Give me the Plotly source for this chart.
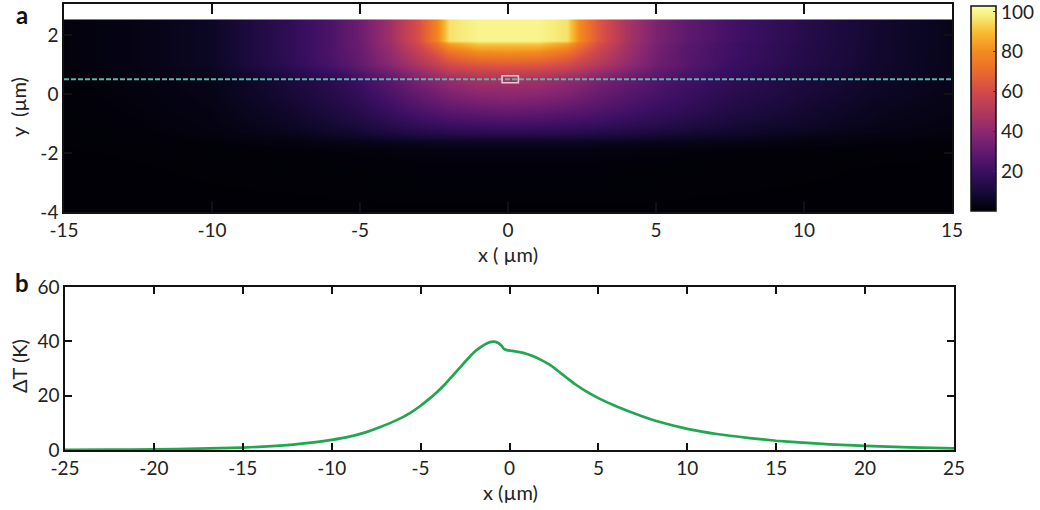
import plotly.graph_objects as go

# ---------------- data: panel a (temperature map) ----------------
map_x = [-15, -12.5, -10, -7.5, -6, -5, -4, -3, -2.4, -2.0, -1, 0, 1, 2.0, 2.4, 3, 4, 5, 6, 7.5, 10, 12.5, 15]
map_y = [-4, -2.5, -1.9, -1.6, -1.3, -1.0, -0.5, 0.0, 0.5, 1.0, 1.4, 1.7, 1.8, 2.45, 2.5]
row_m4_0 = [0.3] * 23
row_m2_5 = [0.3, 0.4, 0.5, 0.6, 0.7, 0.8, 0.9, 1, 1, 1, 1, 1, 1, 1, 1, 1, 0.9, 0.8, 0.7, 0.6, 0.5, 0.4, 0.3]
row_m1_9 = [0.4, 0.5, 0.7, 1, 1.3, 1.5, 1.7, 1.9, 2, 2, 2, 2, 2, 2, 2, 1.9, 1.8, 1.6, 1.4, 1.2, 0.9, 0.7, 0.5]
row_m1_6 = [0.5, 0.8, 1.2, 2.2, 3, 3.8, 4.6, 5.3, 5.6, 5.8, 6, 6, 6, 5.8, 5.7, 5.4, 5, 4.4, 3.8, 3.2, 2.2, 1.5, 1.1]
row_m1_3 = [0.5, 1, 2, 4.5, 7, 8.5, 11, 13, 13.8, 14.3, 14.8, 15, 14.8, 14.3, 14, 13.3, 12, 10.5, 9, 7.5, 5, 3, 2]
row_m1_0 = [0.6, 1.2, 2.5, 6, 9, 11.5, 15, 18, 19.5, 20.5, 21.5, 22, 21.5, 20.5, 20, 19, 17, 15, 13, 10, 7, 4, 2.5]
row_m0_5 = [0.7, 1.5, 3, 7.5, 11.5, 15, 20, 25, 27, 29, 31, 32, 31, 29, 28, 26, 23, 19.5, 17, 13, 8.5, 5, 3]
row_p0_0 = [0.8, 1.8, 3.5, 9, 13.5, 18, 24, 30, 33, 36, 39, 40, 39, 36, 34, 31, 27, 23, 19.5, 15, 10, 6, 3.5]
row_p0_5 = [1, 2, 4, 10, 15, 21, 28, 36, 40, 43, 47, 47, 46, 42, 40, 36, 31, 26, 22, 17, 11, 7, 4]
row_p1_0 = [1.5, 3, 6, 15.5, 23, 30, 39, 49, 55, 60, 64, 65, 64, 60, 56, 51, 42, 33, 27, 20, 13, 7.6, 4]
row_p1_4 = [1.5, 3, 6, 16, 24, 31, 42, 55, 64, 72, 79, 80, 79, 72, 66, 57, 45, 34, 27, 21, 13.5, 7.8, 4]
row_p1_7 = [1.5, 3, 6, 16, 24, 32, 44, 60, 72, 84, 92, 92, 92, 84, 74, 62, 47, 35, 28, 21, 13.5, 7.8, 4]
row_heater = [1.5, 3, 6, 16, 24, 32, 45, 62, 78, 96, 100, 100, 100, 96, 80, 65, 48, 36, 29, 22, 14, 8, 4]
map_z = [row_m4_0, row_m2_5, row_m1_9, row_m1_6, row_m1_3, row_m1_0, row_m0_5,
         row_p0_0, row_p0_5, row_p1_0, row_p1_4, row_p1_7, row_heater, row_heater, row_heater]

cut_line_y = 0.5
cut_line_x = [-15, 15]
probe_box_x = [-0.2, 0.35]
probe_box_y = [0.38, 0.62]
cbar_ticks = [20, 40, 60, 80, 100]

# ---------------- data: panel b (temperature profile along the dashed line) ----------------
prof_x = [-25, -22.5, -20, -17.5, -15, -12.5, -11, -10, -9, -8.2, -7.3, -6.35, -5.6, -5, -4.5,
          -4.1, -3.6, -3.16, -2.7, -2.2, -1.9, -1.66, -1.4, -1.1, -0.85, -0.63, -0.45, -0.31,
          -0.15, 0.03, 0.4, 0.9, 1.34, 1.8, 2.28, 2.75, 3.2, 3.7, 4.15, 5, 6.03, 7.34, 8.46,
          10, 11.65, 13.5, 15, 16.3, 18, 20, 22.5, 25]
prof_y = [0.05, 0.12, 0.25, 0.5, 0.9, 1.8, 2.8, 3.7, 4.9, 6.3, 8.4, 11, 13.6, 16.3, 18.9,
          21.2, 24.4, 27.6, 31, 34.6, 36.5, 37.7, 38.8, 39.7, 39.9, 39.4, 38.4, 37.2,
          36.75, 36.6, 36.2, 35.5, 34.5, 33.1, 31.3, 29.0, 26.7, 24.2, 22.2, 19.1, 16, 12.7, 10.3,
          7.8, 5.9, 4.4, 3.4, 2.8, 2.1, 1.5, 1.0, 0.6]

top_xticks = [-15, -10, -5, 0, 5, 10, 15]
top_xlabels = ["-15", "-10", "-5", "0", "5", "10", "15"]
top_yticks = [-4, -2, 0, 2]
top_ylabels = ["-4", "-2", "0", "2"]
bot_xticks = [-25, -20, -15, -10, -5, 0, 5, 10, 15, 20, 25]
bot_xlabels = ["-25", "-20", "-15", "-10", "-5", "0", "5", "10", "15", "20", "25"]
bot_yticks = [0, 20, 40, 60]
bot_ylabels = ["0", "20", "40", "60"]

# ---------------- styling ----------------
W, H = 1040, 510
FONT = "Lato"
TICK = 19
colorscale = [
    [0.00, "#000004"], [0.05, "#0a0620"], [0.10, "#1a0a3c"], [0.194, "#3b0f63"],
    [0.29, "#631a6e"], [0.388, "#8c2870"], [0.485, "#b2385c"], [0.583, "#d44a4a"],
    [0.68, "#ea6a2e"], [0.777, "#f38c1d"], [0.874, "#f8bd33"], [0.95, "#f7ec7c"],
    [1.00, "#fcffa4"],
]

def px_x(p):
    return p / W

def px_y(p):
    return 1 - p / H

fig = go.Figure()
fig.add_trace(go.Heatmap(
    x=map_x, y=map_y, z=map_z, zsmooth="best", colorscale=colorscale,
    zmin=0, zmax=103, xaxis="x", yaxis="y",
    colorbar=dict(
        x=px_x(971), xanchor="left", y=px_y(6), yanchor="top",
        len=205 / H, lenmode="fraction", thickness=25, thicknessmode="pixels",
        outlinecolor="#111", outlinewidth=1.5, tickvals=cbar_ticks,
        ticks="inside", ticklen=3, tickcolor="#333", xpad=0, ypad=0,
        ticklabeloverflow="allow",
        tickfont=dict(family=FONT, size=TICK, color="#222"),
    ),
    hoverinfo="skip",
))
fig.add_trace(go.Scatter(
    x=cut_line_x, y=[cut_line_y, cut_line_y], mode="lines",
    line=dict(color="#5db7a3", width=1.8, dash="5px,2px"),
    xaxis="x", yaxis="y", showlegend=False, hoverinfo="skip",
))
fig.add_trace(go.Scatter(
    x=prof_x, y=prof_y, mode="lines",
    line=dict(color="#23a650", width=2.7, shape="spline", smoothing=0.6),
    xaxis="x2", yaxis="y2", showlegend=False, hoverinfo="skip",
))

fig.add_shape(type="rect", xref="x", yref="y",
              x0=probe_box_x[0], x1=probe_box_x[1], y0=probe_box_y[0], y1=probe_box_y[1],
              line=dict(color="#f2c4d4", width=1.6))

axis_common = dict(showgrid=False, zeroline=False, showline=True, linecolor="#111", linewidth=1.5,
                   mirror="ticks", ticks="inside", tickcolor="#111", tickwidth=1.5,
                   automargin=False, tickmode="array",
                   tickfont=dict(family=FONT, size=TICK, color="#222"))

fig.update_layout(
    width=W, height=H, margin=dict(l=0, r=0, t=0, b=0, autoexpand=False),
    paper_bgcolor="white", plot_bgcolor="white", showlegend=False,
    xaxis=dict(domain=[px_x(64), px_x(952)], range=[-15, 15], tickvals=top_xticks,
               ticktext=top_xlabels, ticklen=10, anchor="y", **axis_common),
    yaxis=dict(domain=[px_y(212), px_y(4)], range=[-4, 3.05], tickvals=top_yticks,
               ticktext=top_ylabels, ticklen=8, anchor="x", **axis_common),
    xaxis2=dict(domain=[px_x(65), px_x(954)], range=[-25, 25], tickvals=bot_xticks,
                ticktext=bot_xlabels, ticklen=7, anchor="y2", **axis_common),
    yaxis2=dict(domain=[px_y(450), px_y(287)], range=[0, 60], tickvals=bot_yticks,
                ticktext=bot_ylabels, ticklen=7, anchor="x2", **axis_common),
)

ann_font = dict(family=FONT, size=20, color="#222")
annotations = [
    dict(text="<b>a</b>", x=px_x(22), y=px_y(14), font=dict(family=FONT, size=24, color="#111")),
    dict(text="<b>b</b>", x=px_x(22), y=px_y(282), font=dict(family=FONT, size=24, color="#111")),
    dict(text="y  (µm)", x=px_x(18), y=px_y(107), textangle=-90, font=ann_font),
    dict(text="x ( µm)", x=px_x(508), y=px_y(254), font=ann_font),
    dict(text="ΔT (K)", x=px_x(19), y=px_y(366), textangle=-90, font=ann_font),
    dict(text="x (µm)", x=px_x(510), y=px_y(492), font=ann_font),
]
for a in annotations:
    a.update(xref="paper", yref="paper", showarrow=False, xanchor="center", yanchor="middle")
fig.update_layout(annotations=annotations)

fig.write_html("out.html", config={"displayModeBar": False},
               post_script="document.body.style.margin='0';document.body.style.overflow='hidden';")
